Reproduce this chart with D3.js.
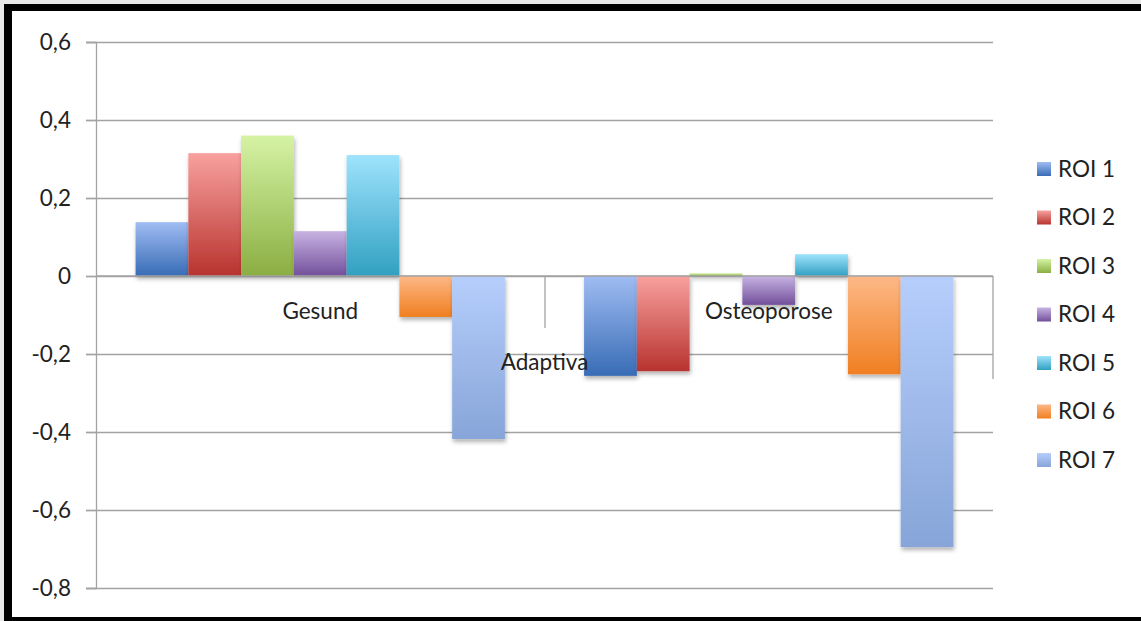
<!DOCTYPE html>
<html>
<head>
<meta charset="utf-8">
<script src="https://cdn.jsdelivr.net/npm/d3@7/dist/d3.min.js"></script>
<style>
  html, body { margin: 0; padding: 0; background: #ececec; }
  svg { display: block; }
  text { font-family: Lato, "Open Sans", sans-serif; fill: #222; }
</style>
</head>
<body>
<svg id="chart" width="1141" height="621"></svg>
<script>
// Inner categories and their outer grouping label
const categories = ["Gesund", "Osteoporose"];
const outerGroup = "Adaptiva";
const series = ["ROI 1", "ROI 2", "ROI 3", "ROI 4", "ROI 5", "ROI 6", "ROI 7"];

// Values per series, one per category (Gesund, Osteoporose)
const roi1 = [0.138, -0.256];
const roi2 = [0.315, -0.244];
const roi3 = [0.360, 0.007];
const roi4 = [0.115, -0.074];
const roi5 = [0.310, 0.056];
const roi6 = [-0.105, -0.252];
const roi7 = [-0.418, -0.695];
const seriesValues = [roi1, roi2, roi3, roi4, roi5, roi6, roi7];

const yTicks = [-0.8, -0.6, -0.4, -0.2, 0, 0.2, 0.4, 0.6];

// Gradient stops per series: light top, dark bottom
const gradTop = ["#a0bcf3", "#f8a19e", "#d5f3a4", "#c7b3e2", "#9ee3fd", "#fdb886", "#b6cefc"];
const gradBottom = ["#386cb5", "#b8332f", "#8bae42", "#72509b", "#31a0c1", "#f07f21", "#87a5d8"];

const FONT = 22.5;

const svg = d3.select("#chart");
const W = 1141, H = 621;

// Frame
svg.append("rect").attr("x", 0).attr("y", 0).attr("width", W).attr("height", H).attr("fill", "#e9e9e9");
svg.append("rect").attr("x", 4).attr("y", 4).attr("width", W).attr("height", H).attr("fill", "#000");
svg.append("rect").attr("x", 12).attr("y", 11).attr("width", W).attr("height", 606).attr("fill", "#fff");

const defs = svg.append("defs");
series.forEach((s, i) => {
  const g = defs.append("linearGradient").attr("id", "grad" + i)
    .attr("x1", 0).attr("y1", 0).attr("x2", 0).attr("y2", 1);
  g.append("stop").attr("offset", "0%").attr("stop-color", gradTop[i]);
  g.append("stop").attr("offset", "100%").attr("stop-color", gradBottom[i]);
});
const shadow = defs.append("filter").attr("id", "shadow")
  .attr("x", "-20%").attr("y", "-20%").attr("width", "140%").attr("height", "140%");
shadow.append("feDropShadow").attr("dx", 1).attr("dy", 3).attr("stdDeviation", 2.2)
  .attr("flood-color", "#000").attr("flood-opacity", 0.3);

// Scales
const x0 = d3.scaleBand().domain(categories).range([96, 993]).padding(0);
const x1 = d3.scaleBand().domain(series).range([0, x0.bandwidth()]).paddingInner(0).paddingOuter(0.75);
const y = d3.scaleLinear().domain([-0.8, 0.6]).range([588, 42]);

const gridColor = "#a3a3a3";

// Horizontal gridlines
svg.append("g").selectAll("line").data(yTicks).join("line")
  .attr("x1", 86).attr("x2", 993)
  .attr("y1", d => Math.round(y(d)) + 0.5).attr("y2", d => Math.round(y(d)) + 0.5)
  .attr("stroke", gridColor).attr("stroke-width", 1.3);

// Value axis (decimal comma)
const fmt = d => d === 0 ? "0" : d3.format(".1f")(d).replace(".", ",").replace("−", "-");
const yAxis = svg.append("g").attr("transform", "translate(96,0)")
  .call(d3.axisLeft(y).tickValues(yTicks).tickSize(10).tickPadding(15).tickFormat(fmt));
yAxis.select(".domain").attr("stroke", gridColor).attr("stroke-width", 1.3);
yAxis.selectAll(".tick line").attr("stroke", gridColor).attr("stroke-width", 1.3);
yAxis.selectAll(".tick text").attr("font-size", FONT).attr("fill", "#222")
  .style("font-family", "Lato, 'Open Sans', sans-serif").attr("dy", "0.35em");

// Bars
const groups = svg.append("g").selectAll("g").data(series).join("g")
  .attr("fill", (d, i) => `url(#grad${i})`)
  .attr("filter", "url(#shadow)");
groups.selectAll("rect").data((s, i) => categories.map((c, j) => ({ c, s, v: seriesValues[i][j] })))
  .join("rect")
  .attr("x", d => x0(d.c) + x1(d.s))
  .attr("width", x1.bandwidth())
  .attr("y", d => y(Math.max(0, d.v)))
  .attr("height", d => Math.max(1, Math.abs(y(d.v) - y(0))));

// Category axis at zero with multi-level tick marks
const zeroY = y(0);
svg.append("line").attr("x1", 96).attr("x2", 993).attr("y1", zeroY).attr("y2", zeroY)
  .attr("stroke", gridColor).attr("stroke-width", 1.3);
svg.append("line").attr("x1", x0(categories[1]) + 0.5).attr("x2", x0(categories[1]) + 0.5)
  .attr("y1", zeroY).attr("y2", zeroY + 52).attr("stroke", gridColor).attr("stroke-width", 1.3);
svg.append("line").attr("x1", 993).attr("x2", 993)
  .attr("y1", zeroY).attr("y2", zeroY + 103).attr("stroke", gridColor).attr("stroke-width", 1.3);

svg.append("g").selectAll("text").data(categories).join("text")
  .attr("x", d => x0(d) + x0.bandwidth() / 2)
  .attr("y", zeroY + 43)
  .attr("text-anchor", "middle").attr("font-size", FONT)
  .text(d => d);
svg.append("text")
  .attr("x", (x0.range()[0] + x0.range()[1]) / 2)
  .attr("y", zeroY + 94)
  .attr("text-anchor", "middle").attr("font-size", FONT)
  .text(outerGroup);

// Legend
const legend = svg.append("g").selectAll("g").data(series).join("g")
  .attr("transform", (d, i) => `translate(1037, ${169 + i * 48.5})`);
legend.append("rect").attr("x", 0).attr("y", -7).attr("width", 14).attr("height", 14)
  .attr("fill", (d, i) => `url(#grad${i})`);
legend.append("text").attr("x", 21).attr("y", 0).attr("dy", "0.35em")
  .attr("font-size", FONT).text(d => d);
</script>
</body>
</html>
